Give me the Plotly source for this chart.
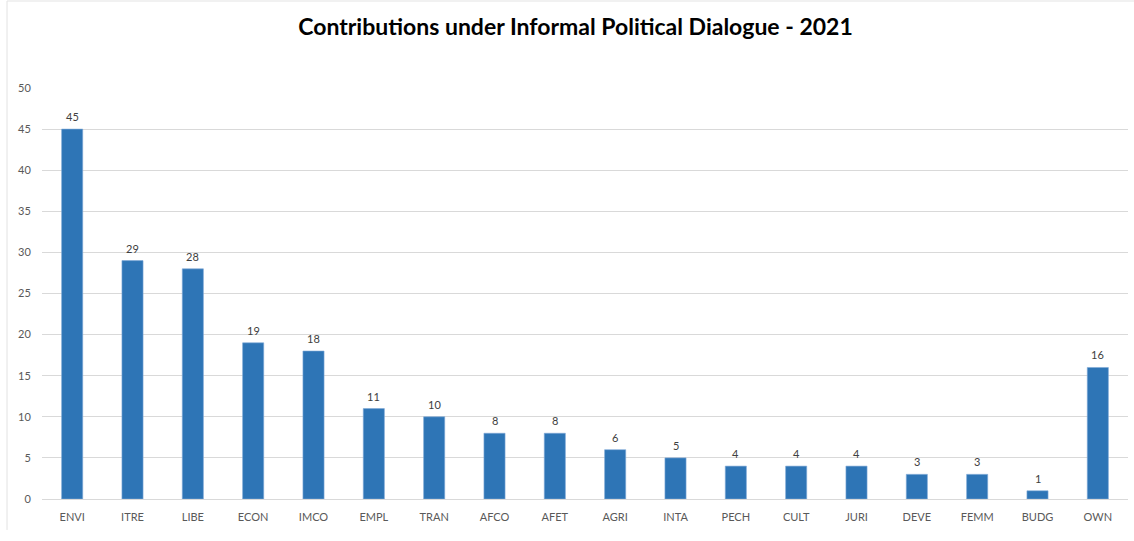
import plotly.graph_objects as go

# Committees and number of contributions in 2021
committees = ["ENVI", "ITRE", "LIBE", "ECON", "IMCO", "EMPL", "TRAN", "AFCO", "AFET",
              "AGRI", "INTA", "PECH", "CULT", "JURI", "DEVE", "FEMM", "BUDG", "OWN"]
contributions = [45, 29, 28, 19, 18, 11, 10, 8, 8, 6, 5, 4, 4, 4, 3, 3, 1, 16]
y_ticks = [0, 5, 10, 15, 20, 25, 30, 35, 40, 45, 50]

BAR_COLOR = "#2E75B6"
FONT = "Lato"

fig = go.Figure(
    go.Bar(
        x=committees,
        y=contributions,
        marker=dict(color=BAR_COLOR, line=dict(color="#7FA9D6", width=0.6)),
        width=0.35,
        hoverinfo="x+y",
    )
)

# value labels sitting a little above each bar
annotations = [
    dict(x=c, y=v, xref="x", yref="y", text=str(v), showarrow=False,
         yanchor="bottom", yshift=4,
         font=dict(family=FONT, size=11, color="#404040"))
    for c, v in zip(committees, contributions)
]

fig.update_layout(
    width=1134,
    height=541,
    margin=dict(l=42, r=6, t=88, b=42),
    paper_bgcolor="white",
    plot_bgcolor="white",
    showlegend=False,
    annotations=annotations,
    title=dict(
        text="<b>Contributions under Informal Political Dialogue - 2021</b>",
        x=0.5075,
        xanchor="center",
        y=0.95,
        yanchor="middle",
        font=dict(family=FONT, size=23, color="#000000"),
    ),
    xaxis=dict(
        tickfont=dict(family=FONT, size=11, color="#595959"),
        showline=False,
        showgrid=False,
        ticks="",
        ticklabelstandoff=10,
        fixedrange=True,
    ),
    yaxis=dict(
        range=[0, 50],
        tickvals=y_ticks,
        tickfont=dict(family=FONT, size=11, color="#595959"),
        showgrid=True,
        gridcolor="#D9D9D9",
        gridwidth=1,
        zeroline=True,
        zerolinecolor="#D9D9D9",
        zerolinewidth=1,
        ticks="outside",
        ticklen=8,
        tickcolor="rgba(0,0,0,0)",
        showline=False,
    ),
    shapes=[
        # light frame along the left and top edges of the chart area
        dict(type="line", xref="paper", yref="paper",
             x0=-0.0322, x1=-0.0322, y0=1.2117, y1=-0.0754,
             line=dict(color="#E3E3E3", width=1)),
        dict(type="line", xref="paper", yref="paper",
             x0=-0.0322, x1=1.01, y0=1.2117, y1=1.2117,
             line=dict(color="#E3E3E3", width=1)),
    ],
)

fig.write_html("out.html")
